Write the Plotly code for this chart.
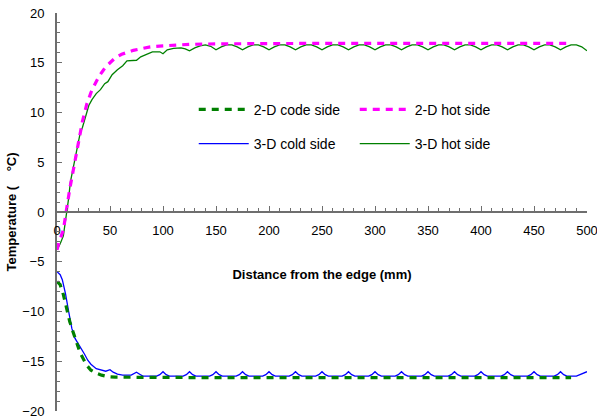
import plotly.graph_objects as go

# ---- data ----
cold2_x = [0, 3, 6, 9, 12, 15, 18, 22, 25, 28, 32, 37, 42, 48, 55, 70, 100, 150, 200, 250, 300, 350, 400, 450, 485]
cold2_t = [-7.0, -7.3, -8.3, -9.7, -11.0, -12.0, -13.0, -14.2, -14.8, -15.4, -15.9, -16.2, -16.4, -16.55, -16.6,
           -16.62, -16.65, -16.65, -16.65, -16.65, -16.65, -16.65, -16.65, -16.65, -16.65]

hot2_x = [0, 2, 6, 9, 12, 15, 18, 21, 24, 28, 32, 36, 40, 44, 48, 55, 61, 72, 80, 88, 100, 125, 150, 200, 250,
          300, 350, 400, 450, 485]
hot2_t = [-3.8, -3.0, -1.8, 0.5, 2.3, 4.0, 5.8, 7.5, 9.1, 10.8, 12.0, 12.9, 13.7, 14.3, 14.8, 15.5, 15.85, 16.25,
          16.45, 16.6, 16.7, 16.85, 16.9, 16.95, 16.95, 16.95, 16.95, 16.95, 16.95, 16.95]

cold3_x = [0, 3, 5, 8, 11, 14, 17, 20, 23, 26, 29, 32, 37, 42, 46, 50, 53, 57, 62, 70, 72, 75, 78, 81,
           94, 97, 100, 103, 106, 119, 122, 125, 128, 131, 144, 147, 150, 153, 156,
           169, 172, 175, 178, 181, 194, 197, 200, 203, 206, 219, 222, 225, 228, 231,
           244, 247, 250, 253, 256, 269, 272, 275, 278, 281, 294, 297, 300, 303, 306,
           319, 322, 325, 328, 331, 344, 347, 350, 353, 356, 369, 372, 375, 378, 381,
           394, 397, 400, 403, 406, 419, 422, 425, 428, 431, 444, 447, 450, 453, 456,
           469, 472, 475, 478, 481, 490, 494, 500]
cold3_t = [-6.0, -6.3, -6.8, -8.2, -10.0, -11.7, -12.7, -13.2, -13.7, -14.3, -14.9, -15.3, -15.75, -15.9, -16.0,
           -15.85, -16.1, -16.3, -16.4, -16.4, -16.3, -16.1, -16.3, -16.5,
           -16.5, -16.35, -16.05, -16.35, -16.5, -16.5, -16.35, -16.05, -16.35, -16.5,
           -16.5, -16.35, -16.05, -16.35, -16.5, -16.5, -16.35, -16.05, -16.35, -16.5,
           -16.5, -16.35, -16.05, -16.35, -16.5, -16.5, -16.35, -16.05, -16.35, -16.5,
           -16.5, -16.35, -16.05, -16.35, -16.5, -16.5, -16.35, -16.05, -16.35, -16.5,
           -16.5, -16.35, -16.05, -16.35, -16.5, -16.5, -16.35, -16.05, -16.35, -16.5,
           -16.5, -16.35, -16.05, -16.35, -16.5, -16.5, -16.35, -16.05, -16.35, -16.5,
           -16.5, -16.35, -16.05, -16.35, -16.5, -16.5, -16.35, -16.05, -16.35, -16.5,
           -16.5, -16.35, -16.05, -16.35, -16.5, -16.5, -16.35, -16.05, -16.35, -16.5,
           -16.5, -16.35, -16.05]

hot3_x = [0, 3, 6, 8.5, 11, 12.6, 15.7, 19, 22, 24, 27, 30, 33, 37, 41, 45, 48, 52, 57, 62, 66, 75, 79, 85, 90,
          97, 100, 104, 110, 117, 121, 125, 130, 135, 140, 145,
          150, 155, 160, 165, 170, 175, 180, 185, 190, 195, 200, 205, 210, 215, 220, 225, 230, 235, 240, 245,
          250, 255, 260, 265, 270, 275, 280, 285, 290, 295, 300, 305, 310, 315, 320, 325, 330, 335, 340, 345,
          350, 355, 360, 365, 370, 375, 380, 385, 390, 395, 400, 405, 410, 415, 420, 425, 430, 435, 440, 445,
          450, 455, 460, 465, 470, 475, 480, 485, 490, 495, 500]
hot3_t = [-3.8, -3.2, -2.4, -0.6, 1.4, 3.0, 4.7, 6.4, 8.0, 8.5, 9.6, 10.7, 11.3, 11.9, 12.3, 12.9, 13.1, 13.8,
          14.3, 14.7, 15.2, 15.25, 15.6, 15.9, 16.1, 16.1, 15.9, 16.3, 16.45, 16.5, 16.4, 16.2, 16.5, 16.7, 16.8,
          16.65,
          16.3, 16.6, 16.8, 16.8, 16.6, 16.3, 16.6, 16.8, 16.8, 16.6, 16.3, 16.6, 16.8, 16.8, 16.6,
          16.3, 16.6, 16.8, 16.8, 16.6, 16.3, 16.6, 16.8, 16.8, 16.6, 16.3, 16.6, 16.8, 16.8, 16.6,
          16.3, 16.6, 16.8, 16.8, 16.6, 16.3, 16.6, 16.8, 16.8, 16.6, 16.3, 16.6, 16.8, 16.8, 16.6,
          16.3, 16.6, 16.8, 16.8, 16.6, 16.3, 16.6, 16.8, 16.8, 16.6, 16.3, 16.6, 16.8, 16.8, 16.6,
          16.3, 16.6, 16.8, 16.8, 16.6, 16.3, 16.6, 16.8, 16.8, 16.6, 16.2]

names = ["2-D code side", "2-D hot side", "3-D cold side", "3-D hot side"]
x_ticks = [0, 50, 100, 150, 200, 250, 300, 350, 400, 450, 500]
y_ticks = [-20, -15, -10, -5, 0, 5, 10, 15, 20]

FONT = "Liberation Sans, Arial, sans-serif"
AXIS = "#6e6e6e"

fig = go.Figure()
fig.add_trace(go.Scatter(x=cold3_x, y=cold3_t, mode="lines", name=names[2], legend="legend2",
                         line=dict(color="#0000ff", width=1.3)))
fig.add_trace(go.Scatter(x=hot3_x, y=hot3_t, mode="lines", name=names[3], legend="legend2",
                         line=dict(color="#008000", width=1.3)))
fig.add_trace(go.Scatter(x=cold2_x, y=cold2_t, mode="lines", name=names[0], legend="legend",
                         line=dict(color="#008000", width=3.2, dash="7px,6px")))
fig.add_trace(go.Scatter(x=hot2_x, y=hot2_t, mode="lines", name=names[1], legend="legend",
                         line=dict(color="#ff00ff", width=3.2, dash="7px,6px")))

legend_common = dict(orientation="h", xanchor="left", yanchor="middle", bgcolor="rgba(0,0,0,0)",
                     font=dict(family=FONT, size=14, color="#000"), itemwidth=50,
                     entrywidth=96, entrywidthmode="pixels", traceorder="normal", tracegroupgap=0)

fig.update_layout(
    width=597, height=418,
    margin=dict(l=57, r=10, t=13, b=7),
    paper_bgcolor="white", plot_bgcolor="white",
    font=dict(family=FONT, size=13, color="#000"),
    showlegend=True,
    legend=dict(x=0.258, y=0.757, **legend_common),
    legend2=dict(x=0.258, y=0.671, **legend_common),
    xaxis=dict(range=[0, 500], tickvals=x_ticks, ticks="inside", ticklen=5, tickwidth=1.3, tickcolor=AXIS,
               minor=dict(dtick=10, ticks="inside", ticklen=3, tickwidth=1, tickcolor=AXIS),
               showline=True, linecolor=AXIS, linewidth=2, showgrid=False, zeroline=False,
               anchor="free", position=0.5, ticklabelstandoff=6, ticklabeloverflow="allow",
               tickfont=dict(family=FONT, size=13),
               title=dict(text="<b>Distance from the edge (mm)</b>", standoff=32,
                          font=dict(family=FONT, size=13)),
               automargin=False),
    yaxis=dict(range=[-20, 20], tickvals=y_ticks, ticks="inside", ticklen=5, tickwidth=1.3, tickcolor=AXIS,
               minor=dict(dtick=1, ticks="inside", ticklen=3, tickwidth=1, tickcolor=AXIS),
               showline=True, linecolor=AXIS, linewidth=2, showgrid=False, zeroline=False,
               ticklabelstandoff=8, ticklabeloverflow="allow", tickfont=dict(family=FONT, size=13),
               title=dict(text="<b>Temperature (\u00a0\u00a0\u00a0\u00a0°C)</b>", standoff=3,
                          font=dict(family=FONT, size=13)),
               automargin=False),
)

fig.write_html("out.html")
